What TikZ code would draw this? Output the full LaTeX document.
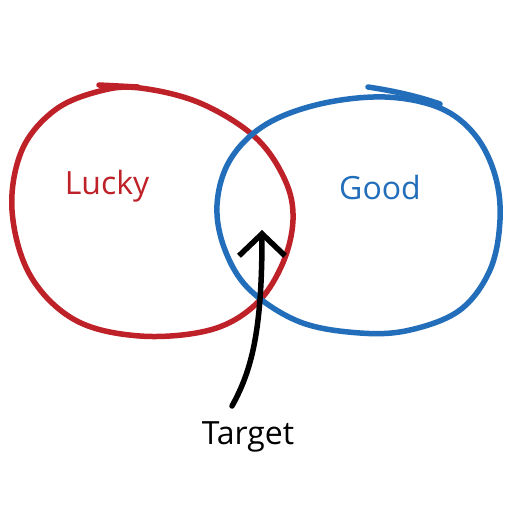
\documentclass[tikz,border=0pt]{standalone}
\usepackage{fontspec}
\setmainfont{Open Sans}
\usetikzlibrary{arrows.meta}
\definecolor{luckyred}{RGB}{190,34,40}
\definecolor{goodblue}{RGB}{34,110,186}
\begin{document}
\begin{tikzpicture}[x=1pt,y=-1pt,
  loop/.style={line width=5.5pt,line cap=round,line join=round},
  lbl/.style={font=\fontsize{32}{36}\selectfont,inner sep=0pt}]
\useasboundingbox[fill=white] (0,0) rectangle (512,512);
% red loop
\draw[loop,luckyred] plot[smooth cycle,tension=0.6] coordinates {
  (140,88) (200,103) (255,137) (285,180) (293,220) (282,265) (255,305)
  (210,330) (140,336) (75,320) (30,275) (12,210) (22,150) (55,110) (100,91)};
\draw[loop,luckyred] (99,85) -- (138,87);
% blue loop
\draw[loop,goodblue] plot[smooth cycle,tension=0.6] coordinates {
  (385,97) (440,108) (475,135) (495,175) (500,220) (490,270) (460,310)
  (410,330) (360,333) (300,322) (250,290) (225,250) (217,205) (230,160)
  (265,125) (320,104)};
\draw[loop,goodblue] (368,87) .. controls (395,91) and (420,97) .. (440,104);
% labels
\node[lbl,text=luckyred] (lucky) at (107,186) {Lucky};
\node[lbl,text=goodblue] (good) at (380,187) {Good};
\node[lbl,text=black] (target) at (248,437) {Target};
% arrow
\coordinate (tail) at (232,406);
\coordinate (tip) at (262,230);
\draw[line width=5.5pt,line cap=round,-{Straight Barb[length=22pt,width=46pt,line width=5.5pt]}]
  (tail) .. controls (252,370) and (262,330) .. (tip);
\end{tikzpicture}
\end{document}
